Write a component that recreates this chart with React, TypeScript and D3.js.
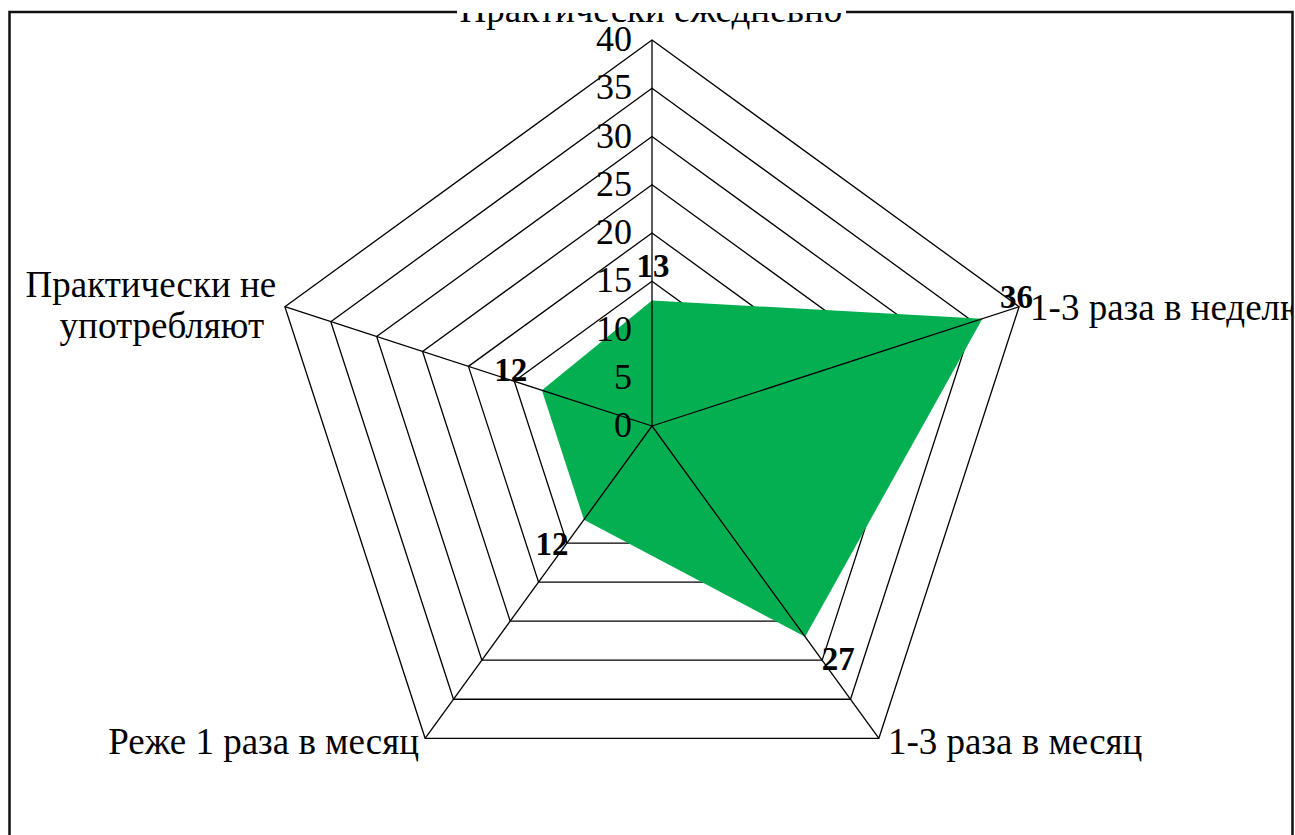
import React from "react";
import * as d3 from "d3";

const categories = [
  ["Практически ежедневно"],
  ["1-3 раза в неделю"],
  ["1-3 раза в месяц"],
  ["Реже 1 раза в месяц"],
  ["Практически не", "употребляют"],
];
const values = [13, 36, 27, 12, 12];
const tickValues = [0, 5, 10, 15, 20, 25, 30, 35, 40];

const WIDTH = 1295;
const HEIGHT = 835;
const CX = 652;
const CY = 426;
const RADIUS = 386;
const FONT = "'Liberation Serif', 'Times New Roman', serif";
const GREEN = "#03af50";

// label placement relative to the outer vertex / data point (px)
const catPlacement = [
  { dx: -1, dy: -18, anchor: "middle", lineDx: [0] },
  { dx: 11, dy: 13, anchor: "start", lineDx: [0] },
  { dx: 9, dy: 16, anchor: "start", lineDx: [0] },
  { dx: -6, dy: 16, anchor: "end", lineDx: [0] },
  { dx: -134, dy: -10, anchor: "middle", lineDx: [0, 11] },
];
const valueOffsets = [
  [1, -35],
  [34, -22],
  [33, 22],
  [-32, 24],
  [-31, -20],
];

export default function App() {
  const r = d3.scaleLinear().domain([0, 40]).range([0, RADIUS]);
  const angle = d3
    .scaleLinear()
    .domain([0, categories.length])
    .range([0, 2 * Math.PI]);

  const pt = (i: number, v: number): [number, number] => {
    const a = angle(i);
    return [CX + r(v) * Math.sin(a), CY - r(v) * Math.cos(a)];
  };

  const closed = d3.line().curve(d3.curveLinearClosed);
  const levels = tickValues.filter((t) => t > 0);

  const dataPath = closed(values.map((v, i) => pt(i, v)));

  return (
    <svg
      width={WIDTH}
      height={HEIGHT}
      style={{ position: "absolute", left: 0, top: 0, background: "#fff" }}
      fontFamily={FONT}
    >
      <defs>
        <clipPath id="frameClip">
          <rect x={10} y={13} width={1282} height={HEIGHT} />
        </clipPath>
      </defs>

      {/* frame */}
      <path
        d={`M9.5,${HEIGHT} V12 H1292.5 V${HEIGHT}`}
        fill="none"
        stroke="#111"
        strokeWidth={2.5}
      />
      <rect x={457} y={0} width={389} height={16} fill="#fff" />

      <g clipPath="url(#frameClip)">
        {levels.map((lv) => (
          <path
            key={lv}
            d={closed(categories.map((_, i) => pt(i, lv))) || ""}
            fill="none"
            stroke="#000"
            strokeWidth={1.3}
          />
        ))}

        <path d={dataPath || ""} fill={GREEN} />

        {categories.map((_, i) => {
          const [x, y] = pt(i, 40);
          return (
            <line
              key={i}
              x1={CX}
              y1={CY}
              x2={x}
              y2={y}
              stroke="#000"
              strokeWidth={1.3}
            />
          );
        })}

        {tickValues.map((t) => (
          <text
            key={t}
            x={CX - 20}
            y={CY - r(t) - 1}
            textAnchor="end"
            dominantBaseline="central"
            fontSize={36}
            fill="#000"
          >
            {t}
          </text>
        ))}

        {categories.map((lines, i) => {
          const [x, y] = pt(i, 40);
          const p = catPlacement[i];
          return (
            <text
              key={i}
              x={x + p.dx}
              y={y + p.dy}
              textAnchor={p.anchor}
              fontSize={37}
              fill="#000"
            >
              {lines.map((ln, j) => (
                <tspan key={j} x={x + p.dx + p.lineDx[j]} y={y + p.dy + j * 41}>
                  {ln}
                </tspan>
              ))}
            </text>
          );
        })}

        {values.map((v, i) => {
          const [x, y] = pt(i, v);
          return (
            <text
              key={i}
              x={x + valueOffsets[i][0]}
              y={y + valueOffsets[i][1]}
              textAnchor="middle"
              dominantBaseline="central"
              fontSize={33}
              fontWeight="bold"
              fill="#000"
            >
              {v}
            </text>
          );
        })}
      </g>
    </svg>
  );
}
